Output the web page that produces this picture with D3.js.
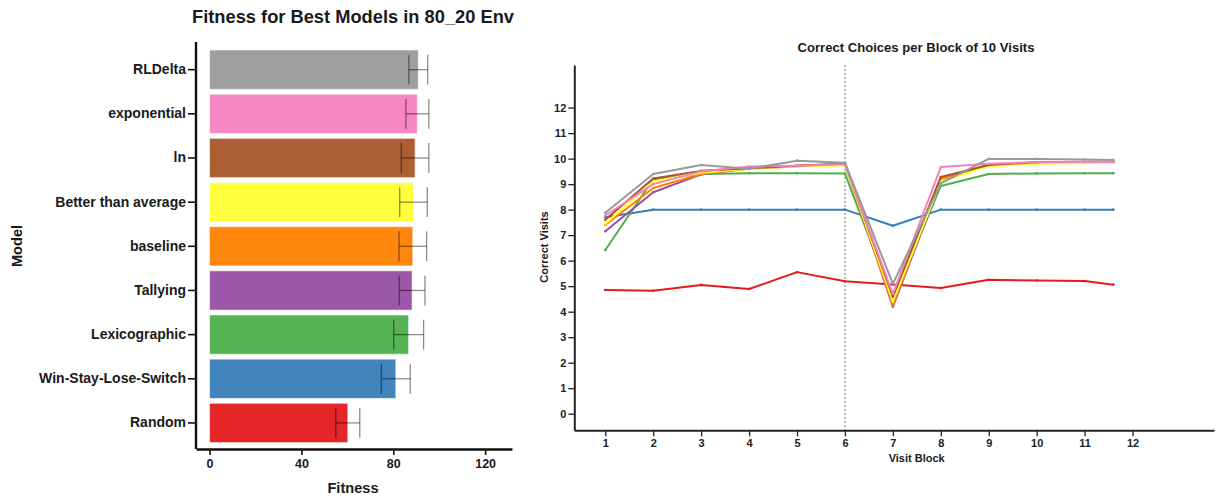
<!DOCTYPE html>
<html><head><meta charset="utf-8">
<script src="https://cdn.jsdelivr.net/npm/d3@7"></script>
<style>body{margin:0;background:#fff;} text{font-family:"Liberation Sans",Arial,sans-serif;font-weight:bold;fill:#1a1a1a;}</style>
</head><body>
<svg id="c" width="1217" height="498"></svg>
<script>
// ---- Left chart data ----
const models = ["RLDelta","exponential","ln","Better than average","baseline","Tallying","Lexicographic","Win-Stay-Lose-Switch","Random"];
const modelColors = ["#999999","#f781bf","#a65628","#ffff33","#ff7f00","#984ea3","#4daf4a","#377eb8","#e41a1c"];
const fitness = [90.9, 90.5, 89.5, 88.8, 88.5, 88.2, 86.7, 81.1, 60.2];
const fitnessErr = [4.1, 5.0, 6.0, 6.0, 6.0, 5.6, 6.5, 6.3, 5.2];
const fitnessTicks = [0, 40, 80, 120];

// ---- Right chart data ----
const blocks = [1,2,3,4,5,6,7,8,9,10,11,11.6];
const blockTicks = [1,2,3,4,5,6,7,8,9,10,11,12];
const visitTicks = [0,1,2,3,4,5,6,7,8,9,10,11,12];
const seriesRandom = [4.85,4.82,5.05,4.89,5.55,5.19,5.07,4.93,5.25,5.22,5.20,5.06];
const seriesWSLS = [7.70,8.0,8.0,8.0,8.0,8.0,7.37,8.0,8.0,8.0,8.0,8.0];
const seriesLexico = [6.42,9.19,9.40,9.43,9.43,9.42,4.45,8.93,9.40,9.42,9.43,9.43];
const seriesTallying = [7.15,8.68,9.38,9.62,9.72,9.80,4.20,9.10,9.78,9.85,9.85,9.85];
const seriesBaseline = [7.40,8.85,9.40,9.60,9.70,9.78,4.25,9.20,9.75,9.85,9.86,9.86];
const seriesBTA = [7.45,9.10,9.45,9.60,9.70,9.74,4.40,9.10,9.70,9.80,9.82,9.83];
const seriesLn = [7.60,9.22,9.52,9.62,9.72,9.80,4.60,9.28,9.75,9.86,9.88,9.88];
const seriesExp = [7.77,9.00,9.50,9.69,9.72,9.78,4.70,9.67,9.80,9.86,9.87,9.87];
const seriesRL = [7.88,9.40,9.75,9.60,9.92,9.84,5.09,9.03,9.99,9.99,9.97,9.95];

const svg = d3.select("#c");

// ===== Left chart =====
{
  const x = d3.scaleLinear().domain([-5.9, 131.7]).range([196, 512]);
  const y = d3.scaleBand().domain(models).range([45.6, 447.0]).paddingInner(0.11).paddingOuter(0.1);
  const g = svg.append("g");
  g.selectAll("rect.bar").data(models).join("rect")
    .attr("x", x(0)).attr("y", d => y(d))
    .attr("width", (d,i) => x(fitness[i]) - x(0)).attr("height", y.bandwidth())
    .attr("fill", (d,i) => modelColors[i]).attr("fill-opacity", 0.95)
    .attr("stroke", "#fff").attr("stroke-opacity", 0.6).attr("stroke-width", 1);
  const eb = g.selectAll("g.err").data(models).join("g").attr("stroke", "#000").attr("stroke-opacity", 0.45).attr("stroke-width", 1.3);
  eb.append("line").attr("x1", (d,i) => x(fitness[i]-fitnessErr[i])).attr("x2", (d,i) => x(fitness[i]+fitnessErr[i]))
    .attr("y1", d => y(d)+y.bandwidth()/2).attr("y2", d => y(d)+y.bandwidth()/2);
  eb.append("line").attr("x1", (d,i) => x(fitness[i]-fitnessErr[i])).attr("x2", (d,i) => x(fitness[i]-fitnessErr[i]))
    .attr("y1", d => y(d)+y.bandwidth()*0.12).attr("y2", d => y(d)+y.bandwidth()*0.88);
  eb.append("line").attr("x1", (d,i) => x(fitness[i]+fitnessErr[i])).attr("x2", (d,i) => x(fitness[i]+fitnessErr[i]))
    .attr("y1", d => y(d)+y.bandwidth()*0.12).attr("y2", d => y(d)+y.bandwidth()*0.88);

  const xa = g.append("g").attr("transform", "translate(0,449)")
    .call(d3.axisBottom(x).tickValues(fitnessTicks).tickSize(6).tickPadding(4).tickSizeOuter(0));
  xa.select(".domain").attr("stroke", "#111").attr("stroke-width", 2.4);
  xa.selectAll(".tick line").attr("stroke", "#111").attr("stroke-width", 1.6);
  xa.selectAll(".tick text").attr("font-size", 12.5).style("fill", "#1a1a1a");
  const ya = g.append("g").attr("transform", "translate(196,0)")
    .call(d3.axisLeft(y).tickSize(8).tickPadding(2).tickSizeOuter(0));
  ya.select(".domain").attr("d", "M0,42V449").attr("stroke", "#111").attr("stroke-width", 2.4);
  ya.selectAll(".tick line").attr("stroke", "#111").attr("stroke-width", 1.6);
  ya.selectAll(".tick text").attr("font-size", 14).style("fill", "#1a1a1a");

  g.append("text").attr("x", 353).attr("y", 23).attr("text-anchor", "middle").attr("font-size", 18.3).text("Fitness for Best Models in 80_20 Env");
  g.append("text").attr("x", 353).attr("y", 493).attr("text-anchor", "middle").attr("font-size", 14.6).text("Fitness");
  g.append("text").attr("transform", "translate(22,246) rotate(-90)").attr("text-anchor", "middle").attr("font-size", 14.6).text("Model");
}

// ===== Right chart =====
{
  const x = d3.scaleLinear().domain([0.353, 13.7]).range([574.3, 1214]);
  const y = d3.scaleLinear().domain([-0.65, 13.67]).range([430.3, 65]);
  const g = svg.append("g");
  g.append("line").attr("x1", x(6)).attr("x2", x(6)).attr("y1", 65).attr("y2", 430)
    .attr("stroke", "#777").attr("stroke-width", 1).attr("stroke-dasharray", "2,2");
  const series = [
    [seriesRandom, "#e41a1c"], [seriesWSLS, "#377eb8"], [seriesLexico, "#4daf4a"],
    [seriesTallying, "#984ea3"], [seriesBaseline, "#ff7f00"], [seriesBTA, "#ffff33"],
    [seriesLn, "#a65628"], [seriesExp, "#f781bf"], [seriesRL, "#999999"]
  ];
  const line = d3.line().x((d,i) => x(blocks[i])).y(d => y(d));
  series.forEach(([vals, col]) => {
    g.append("path").datum(vals).attr("d", line).attr("fill", "none").attr("stroke", col).attr("stroke-width", 2).attr("stroke-linejoin", "round");
    g.selectAll(null).data(vals).join("circle").attr("cx", (d,i) => x(blocks[i])).attr("cy", d => y(d)).attr("r", 1.3).attr("fill", col);
  });

  const xa = g.append("g").attr("transform", "translate(0,430.3)")
    .call(d3.axisBottom(x).tickValues(blockTicks).tickSize(6).tickPadding(3).tickSizeOuter(0));
  xa.select(".domain").attr("stroke", "#222").attr("stroke-width", 2);
  xa.selectAll(".tick line").attr("stroke", "#222").attr("stroke-width", 1.3);
  xa.selectAll(".tick text").attr("font-size", 11).style("fill", "#222");
  const ya = g.append("g").attr("transform", "translate(574.3,0)")
    .call(d3.axisLeft(y).tickValues(visitTicks).tickSize(6).tickPadding(2).tickSizeOuter(0));
  ya.select(".domain").attr("stroke", "#222").attr("stroke-width", 2);
  ya.selectAll(".tick line").attr("stroke", "#222").attr("stroke-width", 1.3);
  ya.selectAll(".tick text").attr("font-size", 11).style("fill", "#222");

  g.append("text").attr("x", 916).attr("y", 51.5).attr("text-anchor", "middle").attr("font-size", 13.1).text("Correct Choices per Block of 10 Visits");
  g.append("text").attr("x", 916.7).attr("y", 462).attr("text-anchor", "middle").attr("font-size", 11).text("Visit Block");
  g.append("text").attr("transform", "translate(548,247) rotate(-90)").attr("text-anchor", "middle").attr("font-size", 11).text("Correct Visits");
}
</script>
</body></html>
